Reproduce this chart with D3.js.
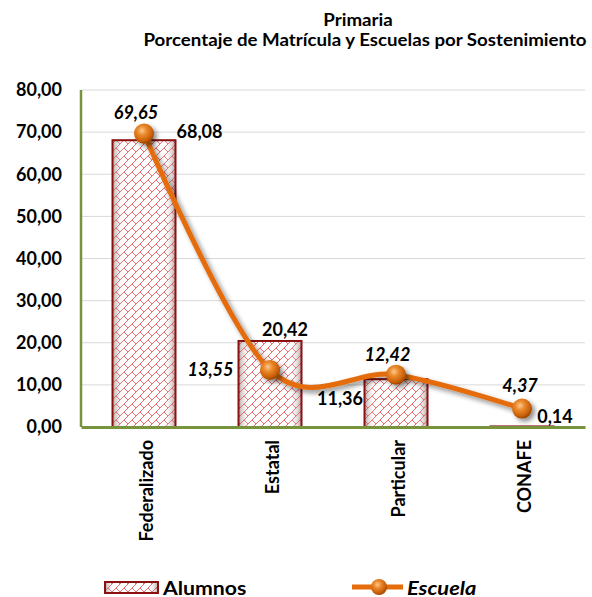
<!DOCTYPE html>
<html><head><meta charset="utf-8">
<script src="https://cdn.jsdelivr.net/npm/d3@7"></script>
<style>body{margin:0;background:#fff}svg{display:block;font-family:Lato,"Open Sans",sans-serif}</style>
</head><body><svg id="c" width="592" height="597"></svg>
<script>
const categories = ["Federalizado","Estatal","Particular","CONAFE"];
const alumnos = [68.08, 20.42, 11.36, 0.14];
const escuela = [69.65, 13.55, 12.42, 4.37];
const yTicks = [0,10,20,30,40,50,60,70,80];
const titleLines = ["Primaria","Porcentaje de Matrícula y Escuelas por Sostenimiento"];
const seriesNames = ["Alumnos","Escuela"];
// label offsets (dx, dy, anchor) relative to the mark: styling only
const alumnosLabelOff = [[1,-8.5,"start"],[15,-11,"middle"],[-56,20,"middle"],[33,-10,"middle"]];
const escuelaLabelOff = [[-8,-20.5,"middle"],[-59.5,0,"middle"],[-8.5,-19.7,"middle"],[-2,-22.6,"middle"]];

const fmt = v => v.toFixed(2).replace(".", ",");
const svg = d3.select("#c");
const m = {l:81, r:585, t:90, b:427};
const x = d3.scaleBand().domain(categories).range([m.l, m.r]).paddingInner(0.5).paddingOuter(0.25);
const y = d3.scaleLinear().domain([0,80]).range([m.b, m.t]);
const cx = c => x(c) + x.bandwidth()/2;
const FS = 18;

const defs = svg.append("defs");
const pat = defs.append("pattern").attr("id","brick").attr("patternUnits","userSpaceOnUse")
  .attr("width",8).attr("height",8);
pat.append("rect").attr("width",8).attr("height",8).attr("fill","#fff");
pat.append("path").attr("d","M0,8 L8,0 M-1,1 L1,-1 M7,9 L9,7 M4,4 L8,8")
  .attr("stroke","#ec6f72").attr("stroke-width",1).attr("fill","none");
const shade = defs.append("linearGradient").attr("id","shade");
shade.append("stop").attr("offset","0").attr("stop-color","#6a4a4a").attr("stop-opacity",0.5);
shade.append("stop").attr("offset","0.18").attr("stop-color","#fff").attr("stop-opacity",0);
shade.append("stop").attr("offset","0.82").attr("stop-color","#fff").attr("stop-opacity",0);
shade.append("stop").attr("offset","1").attr("stop-color","#6a4a4a").attr("stop-opacity",0.5);
const rg = defs.append("radialGradient").attr("id","ball").attr("cx","0.4").attr("cy","0.35").attr("r","0.65");
rg.append("stop").attr("offset","0").attr("stop-color","#fcc891");
rg.append("stop").attr("offset","0.35").attr("stop-color","#ec8a2c");
rg.append("stop").attr("offset","0.8").attr("stop-color","#c95f08");
rg.append("stop").attr("offset","1").attr("stop-color","#9b4604");
const sh = defs.append("filter").attr("id","sh").attr("x","-50%").attr("y","-50%").attr("width","200%").attr("height","200%");
sh.append("feGaussianBlur").attr("in","SourceAlpha").attr("stdDeviation",2.5);
sh.append("feOffset").attr("dx",3).attr("dy",3).attr("result","b");
sh.append("feComponentTransfer").append("feFuncA").attr("type","linear").attr("slope",0.45);
const mg = sh.append("feMerge"); mg.append("feMergeNode"); mg.append("feMergeNode").attr("in","SourceGraphic");

// title (slightly widened glyphs)
const titleX = [358, 365];
svg.append("g").selectAll("text").data(titleLines).join("text")
  .attr("transform",(d,i)=>`translate(${titleX[i]},${26+i*20}) scale(1.1,1)`)
  .attr("text-anchor","middle")
  .attr("font-weight","bold").attr("font-size",17).attr("fill","#000").text(d=>d);

// grid
svg.append("g").selectAll("line").data(yTicks.filter(t=>t>0)).join("line")
  .attr("x1",m.l).attr("x2",m.r).attr("y1",d=>y(d)).attr("y2",d=>y(d))
  .attr("stroke","#d9d9d9").attr("stroke-width",1);

// y axis labels
const ya = svg.append("g").attr("transform",`translate(${m.l},0)`)
  .call(d3.axisLeft(y).tickValues(yTicks).tickFormat(fmt).tickSize(0).tickPadding(19));
ya.select(".domain").remove();
ya.selectAll("text").attr("font-family","Lato").attr("font-weight","bold").attr("font-size",FS).attr("fill","#000");

// bars
const bars = svg.append("g");
bars.selectAll("rect.b").data(alumnos).join("rect").attr("class","b")
  .attr("x",(d,i)=>x(categories[i])).attr("width",x.bandwidth())
  .attr("y",d=>y(d)).attr("height",d=>y(0)-y(d)).attr("fill","url(#brick)");
bars.selectAll("rect.s").data(alumnos).join("rect").attr("class","s")
  .attr("x",(d,i)=>x(categories[i])).attr("width",x.bandwidth())
  .attr("y",d=>y(d)).attr("height",d=>y(0)-y(d)).attr("fill","url(#shade)")
  .attr("stroke","#8b1010").attr("stroke-width",2);

// axes lines
svg.append("line").attr("x1",m.l).attr("x2",m.l).attr("y1",m.t).attr("y2",m.b)
  .attr("stroke","#77933c").attr("stroke-width",2.5);
const xa = svg.append("g").attr("transform",`translate(0,${m.b})`)
  .call(d3.axisBottom(x).tickSize(0));
xa.select(".domain").attr("stroke","#77933c").attr("stroke-width",3);
xa.selectAll(".tick text").attr("font-family","Lato").attr("font-weight","bold").attr("font-size",FS).attr("fill","#000")
  .attr("transform","rotate(-90)").attr("text-anchor","end").attr("x",-13).attr("y",3).attr("dy","0.35em");

// line
const pts = escuela.map((v,i)=>[cx(categories[i]), y(v)]);
svg.append("path").attr("d",d3.line().curve(d3.curveCardinal.tension(0))(pts))
  .attr("fill","none").attr("stroke","#e46c0a").attr("stroke-width",5).attr("filter","url(#sh)");
svg.append("g").selectAll("circle").data(pts).join("circle")
  .attr("cx",d=>d[0]).attr("cy",d=>d[1]).attr("r",10).attr("fill","url(#ball)").attr("filter","url(#sh)");

// labels
svg.append("g").selectAll("text").data(alumnos).join("text")
  .attr("x",(d,i)=>(alumnosLabelOff[i][2]==="start"?x(categories[i])+x.bandwidth():cx(categories[i]))+alumnosLabelOff[i][0])
  .attr("y",(d,i)=>y(d)+alumnosLabelOff[i][1]).attr("dy","0.35em")
  .attr("text-anchor",(d,i)=>alumnosLabelOff[i][2])
  .attr("font-weight","bold").attr("font-size",FS).text(fmt);
svg.append("g").selectAll("text").data(escuela).join("text")
  .attr("x",(d,i)=>cx(categories[i])+escuelaLabelOff[i][0])
  .attr("y",(d,i)=>y(d)+escuelaLabelOff[i][1]).attr("dy","0.35em")
  .attr("text-anchor","middle").attr("font-style","italic")
  .attr("font-weight","bold").attr("font-size",FS).text(fmt);

// legend
const lg = svg.append("g");
lg.append("rect").attr("x",105).attr("y",582).attr("width",53).attr("height",11).attr("fill","url(#brick)");
lg.append("rect").attr("x",105).attr("y",582).attr("width",53).attr("height",11).attr("fill","url(#shade)")
  .attr("stroke","#8b1010").attr("stroke-width",2);
lg.append("text").attr("transform","translate(163,588) scale(1.12,1)").attr("dy","0.35em")
  .attr("font-weight","bold").attr("font-size",19).text(seriesNames[0]);
lg.append("line").attr("x1",352).attr("x2",403).attr("y1",587).attr("y2",587).attr("stroke","#e46c0a").attr("stroke-width",5);
lg.append("circle").attr("cx",379).attr("cy",587).attr("r",8).attr("fill","url(#ball)");
lg.append("text").attr("transform","translate(407,588) scale(1.15,1)").attr("dy","0.35em")
  .attr("font-weight","bold").attr("font-style","italic").attr("font-size",19).text(seriesNames[1]);
</script></body></html>
